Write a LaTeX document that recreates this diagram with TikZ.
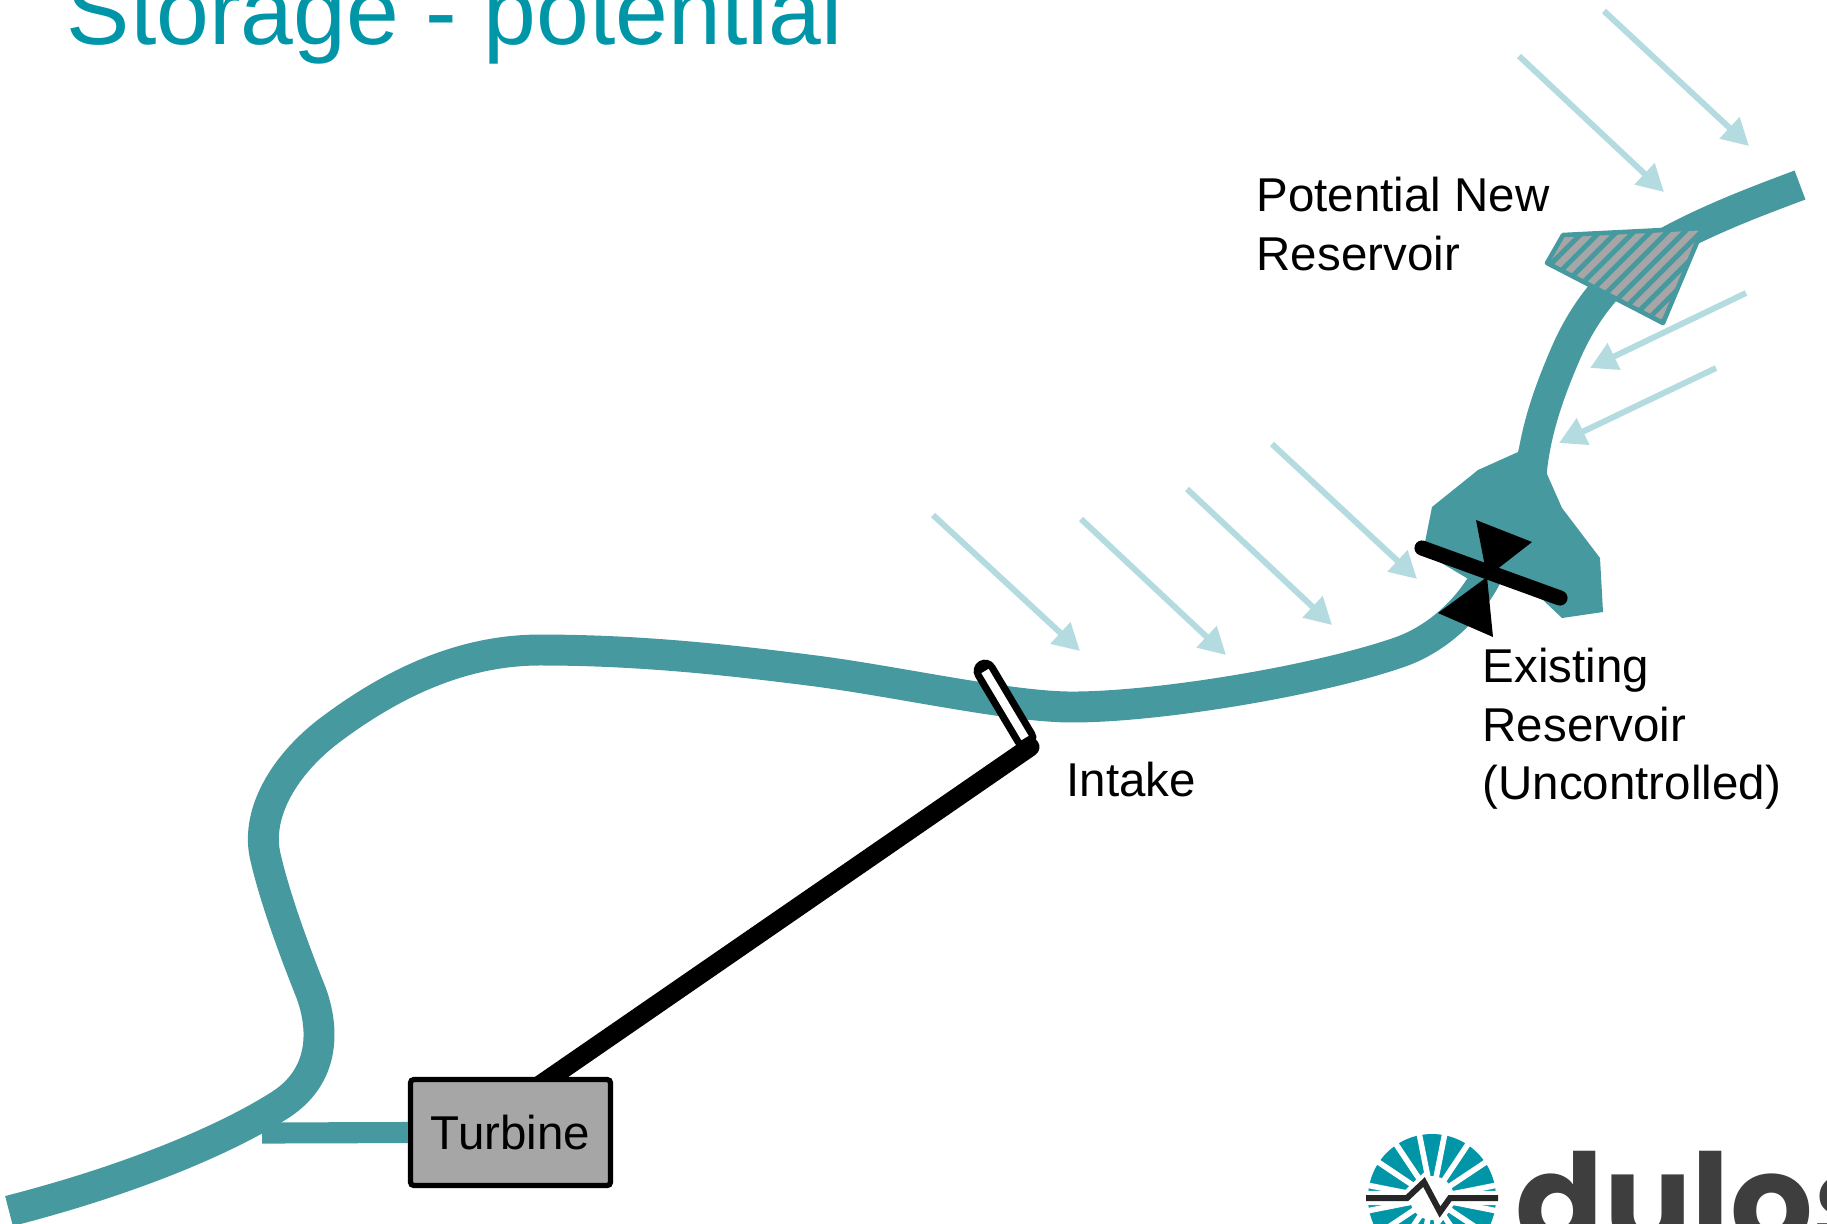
\documentclass[tikz,border=0pt]{standalone}
\usepackage{fontspec}
\setmainfont{Liberation Sans}
\newfontfamily\logofont{Poppins}
\usetikzlibrary{arrows.meta,patterns.meta,backgrounds}

\definecolor{riverteal}{RGB}{71,153,160}
\definecolor{rainblue}{RGB}{180,220,224}
\definecolor{titleteal}{RGB}{0,150,168}
\definecolor{boxgray}{RGB}{166,166,166}
\definecolor{logogray}{RGB}{62,62,62}

\tikzset{
  water/.style={draw=riverteal, line width=8.8pt, line join=round},
  raindrop/.style={draw=rainblue, line width=1.7pt, -{Triangle[length=7.6pt,width=8pt]}},
  note/.style={font=\fontsize{13.5}{16.5}\selectfont, align=left, inner sep=0pt},
  turbinebox/.style={draw, fill=boxgray, line width=1.5pt, rounded corners=1pt,
    minimum width=2cm, minimum height=1.06cm, inner sep=0pt,
    font=\fontsize{13.5}{16.5}\selectfont},
  penstock/.style={line width=5.4pt, line cap=round},
}

\begin{document}
\begin{tikzpicture}[x=0.01cm, y=-0.01cm]
  \useasboundingbox (0,0) rectangle (1827,1223);

  % title, cut by the top edge
  \node[anchor=base west, inner sep=0pt, text=titleteal,
        font=\fontsize{27}{32}\selectfont] (title) at (66,44) {Storage - potential};

  % rain running off the hillside
  \foreach \sx/\sy/\tx/\ty in {933/515/1080/651, 1081/519/1226/655,
      1187/489/1332/625, 1272/444/1417/579, 1519/56/1664/192,
      1604/11/1749/146, 1746/293/1590/368, 1716/368/1559/443}
    \draw[raindrop] (\sx,\sy) -- (\tx,\ty);

  % main river, lower reach
  \draw[water] (9,1211) .. controls (130,1180) and (225,1140) .. (280,1105)
    .. controls (330,1073) and (322,1020) .. (310,990)
    .. controls (298,960) and (275,900) .. (265,855)
    .. controls (256,812) and (285,764) .. (330,730)
    .. controls (390,685) and (460,650) .. (540,650)
    .. controls (640,650) and (730,660) .. (816,671)
    .. controls (900,682) and (1010,707) .. (1072,707)
    .. controls (1160,707) and (1320,680) .. (1400,652)
    .. controls (1440,638) and (1472,605) .. (1487,575);

  % upper reach, above the existing reservoir
  \draw[water] (1531,475) .. controls (1535,430) and (1550,390) .. (1565,355)
    .. controls (1580,320) and (1605,280) .. (1650,252)
    .. controls (1700,222) and (1760,200) .. (1800,185);

  % existing reservoir
  \fill[riverteal] (1423,552) -- (1432,507) -- (1478,470) -- (1518,452)
    -- (1522,440) -- (1545,440) -- (1543,465) -- (1562,508) -- (1600,558)
    -- (1603,612) -- (1562,618) -- (1543,600) -- (1500,583) -- (1470,580) -- cycle;

  % potential new reservoir
  \fill[boxgray] (1563,235) -- (1547,263) -- (1663,323) -- (1703,228) -- cycle;
  \fill[pattern={Lines[angle=45, distance=3.4pt, line width=1.4pt]}, pattern color=riverteal]
    (1563,235) -- (1547,263) -- (1663,323) -- (1703,228) -- cycle;
  \draw[riverteal, line width=1.3pt, line join=round]
    (1563,235) -- (1547,263) -- (1663,323) -- (1703,228) -- cycle;

  % dam and valve on the existing reservoir
  \draw[line width=4.3pt, line cap=round] (1422,548) -- (1560,598);
  \fill (1476,520) -- (1532,542) -- (1487,577) -- (1493,637) -- (1438,613)
    -- (1487,577) -- cycle;

  % turbine and the branch back to the river
  \node[turbinebox] (turbine) at (510.5,1132.5) {Turbine};
  \coordinate (tailrace) at (262,1133);
  \draw[riverteal, line width=6pt] (tailrace) -- (turbine.west);

  % intake screen
  \coordinate (intake top) at (985,671);
  \coordinate (intake) at (1025,738);
  \draw[line width=6.5pt, line cap=round] (intake top) -- (intake);
  \draw[white, line width=2.4pt] (intake top) -- (intake);

  % penstock
  \begin{scope}[on background layer]
    \draw[penstock] ([shift={(5,9)}]intake) -- ([xshift=-0.395cm]turbine.center);
  \end{scope}

  % labels
  \node[note, anchor=base west] (new res) at (1256,270) {Potential New\\Reservoir};
  \node[note, anchor=base west] (intake label) at (1066,796) {Intake};
  \node[note, anchor=base west] (old res) at (1482,799) {Existing\\Reservoir\\(Uncontrolled)};

  % logo
  \begin{scope}[shift={(1432,1198)}]
    \fill[titleteal] (0,0) circle (64);
    \foreach \a in {11.25,33.75,...,360}
      \draw[white, line width=1.6pt] (0,0) -- (\a:70);
    \fill[white] (0,0) circle (22);
    \draw[white, line width=4pt] (-66,0) -- (-25,0) -- (-8,-16) -- (8,14) -- (18,0) -- (66,0);
    \draw[black!85, line width=1.7pt] (-66,0) -- (-25,0) -- (-8,-16) -- (8,14) -- (18,0) -- (66,0);
  \end{scope}
  \node[anchor=base west, inner sep=0pt, text=logogray,
        font=\logofont\bfseries\fontsize{37}{40}\selectfont] (logo) at (1515,1247) {dulos};
\end{tikzpicture}
\end{document}
